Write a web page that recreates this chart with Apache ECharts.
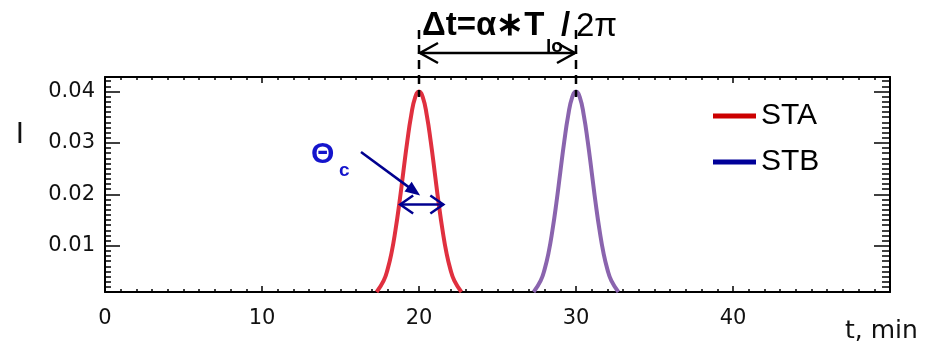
<!DOCTYPE html>
<html>
<head>
<meta charset="utf-8">
<script src="https://cdn.jsdelivr.net/npm/echarts@6/dist/echarts.min.js"></script>
<style>
  html, body { margin: 0; padding: 0; background: #fff; }
  #main { width: 931px; height: 346px; }
</style>
</head>
<body>
<div id="main"></div>
<script>
// time axis (min) and intensity values
var staT = [17.3, 17.75, 18, 18.25, 18.5, 18.75, 19, 19.25, 19.5, 19.75, 20, 20.25, 20.5, 20.75, 21, 21.25, 21.5, 21.75, 22, 22.25, 22.7];
var staI = [0.001, 0.0032, 0.0054, 0.0086, 0.0130, 0.0183, 0.0243, 0.0302, 0.0353, 0.0388, 0.0400, 0.0388, 0.0353, 0.0302, 0.0243, 0.0183, 0.0130, 0.0086, 0.0054, 0.0032, 0.001];
var stbT = [27.3, 27.75, 28, 28.25, 28.5, 28.75, 29, 29.25, 29.5, 29.75, 30, 30.25, 30.5, 30.75, 31, 31.25, 31.5, 31.75, 32, 32.25, 32.7];
var stbI = [0.001, 0.0032, 0.0054, 0.0086, 0.0130, 0.0183, 0.0243, 0.0302, 0.0353, 0.0388, 0.0400, 0.0388, 0.0353, 0.0302, 0.0243, 0.0183, 0.0130, 0.0086, 0.0054, 0.0032, 0.001];

var xTicks = [0, 10, 20, 30, 40];
var yTicks = [0.01, 0.02, 0.03, 0.04];
var names = ['STA', 'STB'];

var labelFont = 'DejaVu Sans';

function pairs(t, v) {
    var out = [];
    for (var i = 0; i < t.length; i++) out.push([t[i], v[i]]);
    return out;
}

var myChart = echarts.init(document.getElementById('main'));

function xAx(pos, minor, len, labels) {
    return {
        type: 'value', min: 0, max: 50, position: pos,
        interval: minor ? 1 : undefined,
        axisLine: { show: minor, onZero: false, lineStyle: { color: '#000', width: 2 } },
        axisTick: minor ? { show: true, inside: true, length: len, lineStyle: { color: '#000', width: 1.5 } }
                        : { show: true, inside: true, length: len, customValues: xTicks, lineStyle: { color: '#000', width: 1.5 } },
        axisLabel: labels ? { show: true, customValues: xTicks, fontFamily: labelFont, fontSize: 21, color: '#111', margin: 16 } : { show: false },
        splitLine: { show: false }
    };
}
function yAx(pos, minor, len, labels) {
    return {
        type: 'value', min: 0.001, max: 0.0428, position: pos,
        interval: minor ? 0.001 : undefined,
        axisLine: { show: minor, onZero: false, lineStyle: { color: '#000', width: 2 } },
        axisTick: minor ? { show: true, inside: true, length: len, lineStyle: { color: '#000', width: 1.5 } }
                        : { show: true, inside: true, length: len, customValues: yTicks, lineStyle: { color: '#000', width: 1.5 } },
        axisLabel: labels ? { show: true, customValues: yTicks, fontFamily: labelFont, fontSize: 21, color: '#111', margin: 10,
                              formatter: function (v) { return v.toFixed(2); } } : { show: false },
        splitLine: { show: false }
    };
}

option = {
    animation: false,
    backgroundColor: '#fff',
    grid: { left: 105, right: 41, top: 77, bottom: 54 },
    xAxis: [
        xAx('bottom', true, 3, false),
        xAx('bottom', false, 6, true),
        xAx('top', true, 3, false),
        xAx('top', false, 6, false)
    ],
    yAxis: [
        yAx('left', true, 6, false),
        yAx('left', false, 15, true),
        yAx('right', true, 8, false),
        yAx('right', false, 16, false)
    ],
    legend: {
        orient: 'vertical',
        left: 708, top: 96,
        icon: 'rect',
        itemWidth: 43, itemHeight: 5,
        itemGap: 16,
        textStyle: { fontFamily: 'Liberation Sans', fontSize: 30, color: '#000' },
        data: [
            { name: 'STA', itemStyle: { color: '#cc0000' } },
            { name: 'STB', itemStyle: { color: '#000099' } }
        ]
    },
    series: [{
        name: names[0], type: 'line', smooth: true, showSymbol: false,
        xAxisIndex: 0, yAxisIndex: 0,
        lineStyle: { color: '#e0303f', width: 4 }, itemStyle: { color: '#e0303f' },
        data: pairs(staT, staI)
    }, {
        name: names[1], type: 'line', smooth: true, showSymbol: false,
        xAxisIndex: 0, yAxisIndex: 0,
        lineStyle: { color: '#8a64ae', width: 4 }, itemStyle: { color: '#8a64ae' },
        data: pairs(stbT, stbI)
    }]
};
myChart.setOption(option);

// annotations placed through the axes
function px(x, y) { return myChart.convertToPixel({ xAxisIndex: 0, yAxisIndex: 0 }, [x, y]); }
var a = px(20, 0.04), b = px(30, 0.04);
var d1 = px(18.8, 0.018), d2 = px(21.55, 0.018);
var black = '#000', blue = '#00008f';

function arrowHead(tx, ty, dx, dy, L, W) {
    // open V head at (tx,ty) pointing along (dx,dy)
    var n = Math.sqrt(dx * dx + dy * dy); dx /= n; dy /= n;
    return [[tx - dx * L - dy * W, ty - dy * L + dx * W], [tx, ty], [tx - dx * L + dy * W, ty - dy * L - dx * W]];
}

var ay = 53;
var g = [
    { type: 'line', shape: { x1: a[0], y1: 30, x2: a[0], y2: 97 }, style: { stroke: black, lineWidth: 2.5, lineDash: [9, 6] }, z: 100 },
    { type: 'line', shape: { x1: b[0], y1: 30, x2: b[0], y2: 97 }, style: { stroke: black, lineWidth: 2.5, lineDash: [9, 6] }, z: 100 },
    { type: 'line', shape: { x1: a[0] + 1, y1: ay, x2: b[0] - 1, y2: ay }, style: { stroke: black, lineWidth: 2.5 }, z: 100 },
    { type: 'polyline', shape: { points: arrowHead(a[0] + 1, ay, -1, 0, 18, 10) }, style: { stroke: black, lineWidth: 2.5, fill: null }, z: 100 },
    { type: 'polyline', shape: { points: arrowHead(b[0] - 1, ay, 1, 0, 18, 10) }, style: { stroke: black, lineWidth: 2.5, fill: null }, z: 100 },
    { type: 'text', x: 422, y: 26, style: { text: 'Δt=α∗T', font: 'bold 33px "Liberation Sans"', fill: black, verticalAlign: 'middle' }, z: 100 },
    { type: 'text', x: 546, y: 47, style: { text: 'lo', font: 'bold 19px "Liberation Sans"', fill: black, verticalAlign: 'middle' }, z: 100 },
    { type: 'text', x: 561, y: 26, style: { text: '/', font: 'bold 33px "Liberation Sans"', fill: black, verticalAlign: 'middle' }, z: 100 },
    { type: 'text', x: 576, y: 27, style: { text: '2π', font: '33px "Liberation Sans"', fill: black, verticalAlign: 'middle' }, z: 100 },
    // Theta_c
    { type: 'text', x: 311, y: 155, style: { text: 'Θ', font: 'bold 30px "Liberation Sans"', fill: '#1414cc', verticalAlign: 'middle' }, z: 100 },
    { type: 'text', x: 339, y: 171, style: { text: 'c', font: 'bold 19px "Liberation Sans"', fill: '#1414cc', verticalAlign: 'middle' }, z: 100 },
    // blue double arrow across the peak width
    { type: 'line', shape: { x1: d1[0], y1: d1[1], x2: d2[0], y2: d2[1] }, style: { stroke: blue, lineWidth: 2.5 }, z: 100 },
    { type: 'polyline', shape: { points: arrowHead(d1[0], d1[1], -1, 0, 13, 9) }, style: { stroke: blue, lineWidth: 2.5, fill: null }, z: 100 },
    { type: 'polyline', shape: { points: arrowHead(d2[0], d2[1], 1, 0, 13, 9) }, style: { stroke: blue, lineWidth: 2.5, fill: null }, z: 100 },
    // axis names
    { type: 'text', x: 20, y: 136, style: { text: 'I', font: '28px "DejaVu Sans"', fill: '#111', align: 'center', verticalAlign: 'middle' }, z: 100 },
    { type: 'text', x: 845, y: 331, style: { text: 't, min', font: '25px "DejaVu Sans"', fill: '#111', verticalAlign: 'middle' }, z: 100 }
];

// slanted blue pointer with filled head
var p0 = [361, 152], p1 = [d1[0] + 20, d1[1] - 9];
var vx = p1[0] - p0[0], vy = p1[1] - p0[1], vl = Math.sqrt(vx * vx + vy * vy);
var ux = vx / vl, uy = vy / vl;
g.push({ type: 'line', shape: { x1: p0[0], y1: p0[1], x2: p1[0] - ux * 10, y2: p1[1] - uy * 10 }, style: { stroke: blue, lineWidth: 2.5 }, z: 100 });
g.push({ type: 'polygon', shape: { points: [p1, [p1[0] - ux * 15 - uy * 6, p1[1] - uy * 15 + ux * 6], [p1[0] - ux * 15 + uy * 6, p1[1] - uy * 15 - ux * 6]] }, style: { fill: blue }, z: 100 });

myChart.setOption({ graphic: g });

window.addEventListener('resize', function () { myChart.resize(); });
</script>
</body>
</html>
